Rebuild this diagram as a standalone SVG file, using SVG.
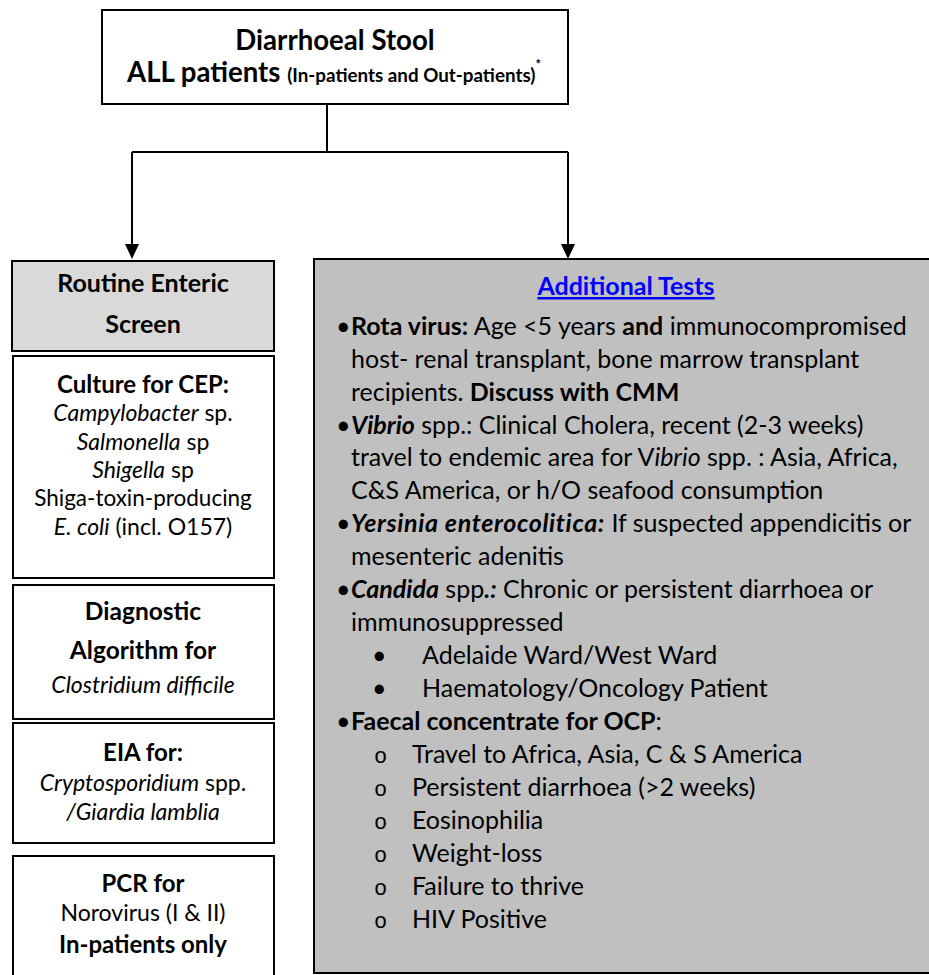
<svg xmlns="http://www.w3.org/2000/svg" width="929" height="975" viewBox="0 0 929 975">
<style>
text{font-family:Lato,"Open Sans","Liberation Sans",sans-serif;fill:#000}
.box{fill:#fff;stroke:#000;stroke-width:2}
.g1{fill:#d9d9d9;stroke:#000;stroke-width:2}
.g2{fill:#c0c0c0;stroke:#000;stroke-width:2}
.c{text-anchor:middle}
.b{font-weight:bold}
.i{font-style:italic}
.L{font-size:23px}
.R{font-size:25px}
.o{font-family:"Liberation Mono",monospace;font-size:22px}
.con{fill:none;stroke:#000;stroke-width:2}
</style>
<g id="connectors">
<path class="con" d="M327,104 V152"/>
<path class="con" d="M132,152 H568"/>
<path class="con" d="M132,152 V246"/>
<path class="con" d="M568,152 V246"/>
<path d="M125,244 L139,244 L132,259 Z" fill="#000"/>
<path d="M561,244 L575,244 L568,259 Z" fill="#000"/>
</g>
<g id="top">
<rect class="box" x="102" y="10" width="466" height="94"/>
<text class="c b" x="335" y="50" font-size="27.6">Diarrhoeal Stool</text>
<text class="c b" x="334" y="82" font-size="27.6">ALL patients <tspan font-size="18.8">(In-patients and Out-patients)</tspan><tspan font-size="13" dy="-13">*</tspan></text>
</g>
<g id="routine">
<rect class="g1" x="12" y="261" width="262" height="90"/>
<text class="c b" x="143" y="292" font-size="25">Routine Enteric</text>
<text class="c b" x="143" y="333" font-size="25">Screen</text>
</g>
<g id="culture">
<rect class="box" x="13" y="356" width="261" height="222"/>
<text class="c b" x="143" y="393" font-size="24">Culture for CEP:</text>
<text class="c L" x="143" y="421"><tspan class="i">Campylobacter</tspan> sp.</text>
<text class="c L" x="143" y="450"><tspan class="i">Salmonella</tspan> sp</text>
<text class="c L" x="143" y="478"><tspan class="i">Shigella</tspan> sp</text>
<text class="c" x="143" y="506" font-size="22.5">Shiga-toxin-producing</text>
<text class="c L" x="143" y="535"><tspan class="i">E. coli</tspan> (incl. O157)</text>
</g>
<g id="diagnostic">
<rect class="box" x="13" y="585" width="261" height="134"/>
<text class="c b" x="143" y="620" font-size="24.5">Diagnostic</text>
<text class="c b" x="143" y="659" font-size="24.5">Algorithm for</text>
<text class="c i L" x="143" y="693">Clostridium difficile</text>
</g>
<g id="eia">
<rect class="box" x="13" y="723" width="261" height="120"/>
<text class="c b" x="143" y="761" font-size="24">EIA for:</text>
<text class="c L" x="143" y="791"><tspan class="i">Cryptosporidium</tspan> spp.</text>
<text class="c i L" x="143" y="820">/Giardia lamblia</text>
</g>
<g id="pcr">
<rect class="box" x="13" y="856" width="261" height="125"/>
<text class="c b" x="143" y="892" font-size="24">PCR for</text>
<text class="c L" x="143" y="921">Norovirus (I &amp; II)</text>
<text class="c b" x="143" y="953" font-size="24">In-patients only</text>
</g>
<g id="additional">
<rect class="g2" x="314" y="259" width="620" height="714"/>
<text class="c b R" x="626" y="295" style="fill:#0000ff" text-decoration="underline">Additional Tests</text>
<g class="R">
<text x="336" y="335">•</text>
<text x="351" y="335"><tspan class="b">Rota virus:</tspan> Age &lt;5 years <tspan class="b">and</tspan> immunocompromised</text>
<text x="351" y="368">host- renal transplant, bone marrow transplant</text>
<text x="351" y="401">recipients. <tspan class="b">Discuss with CMM</tspan></text>
<text x="336" y="434">•</text>
<text x="351" y="434"><tspan class="b i">Vibrio</tspan> spp.: Clinical Cholera, recent (2-3 weeks)</text>
<text x="351" y="466">travel to endemic area for V<tspan class="i">ibrio</tspan> spp. : Asia, Africa,</text>
<text x="351" y="499">C&amp;S America, or h/O seafood consumption</text>
<text x="336" y="532">•</text>
<text x="351" y="532"><tspan class="b i" letter-spacing="0.65">Yersinia enterocolitica:</tspan> If suspected appendicitis or</text>
<text x="351" y="565">mesenteric adenitis</text>
<text x="336" y="598">•</text>
<text x="351" y="598"><tspan class="b i">Candida</tspan> spp<tspan class="b i">.:</tspan> Chronic or persistent diarrhoea or</text>
<text x="351" y="631">immunosuppressed</text>
<text x="372" y="664">•</text>
<text x="422" y="664">Adelaide Ward/West Ward</text>
<text x="372" y="697">•</text>
<text x="422" y="697">Haematology/Oncology Patient</text>
<text x="336" y="730">•</text>
<text x="351" y="730"><tspan class="b">Faecal concentrate for OCP</tspan>:</text>
<text class="o" x="374" y="763">o</text>
<text x="412" y="763">Travel to Africa, Asia, C &amp; S America</text>
<text class="o" x="374" y="796">o</text>
<text x="412" y="796">Persistent diarrhoea (&gt;2 weeks)</text>
<text class="o" x="374" y="829">o</text>
<text x="412" y="829">Eosinophilia</text>
<text class="o" x="374" y="862">o</text>
<text x="412" y="862">Weight-loss</text>
<text class="o" x="374" y="895">o</text>
<text x="412" y="895">Failure to thrive</text>
<text class="o" x="374" y="928">o</text>
<text x="412" y="928">HIV Positive</text>
</g>
</g>
</svg>
